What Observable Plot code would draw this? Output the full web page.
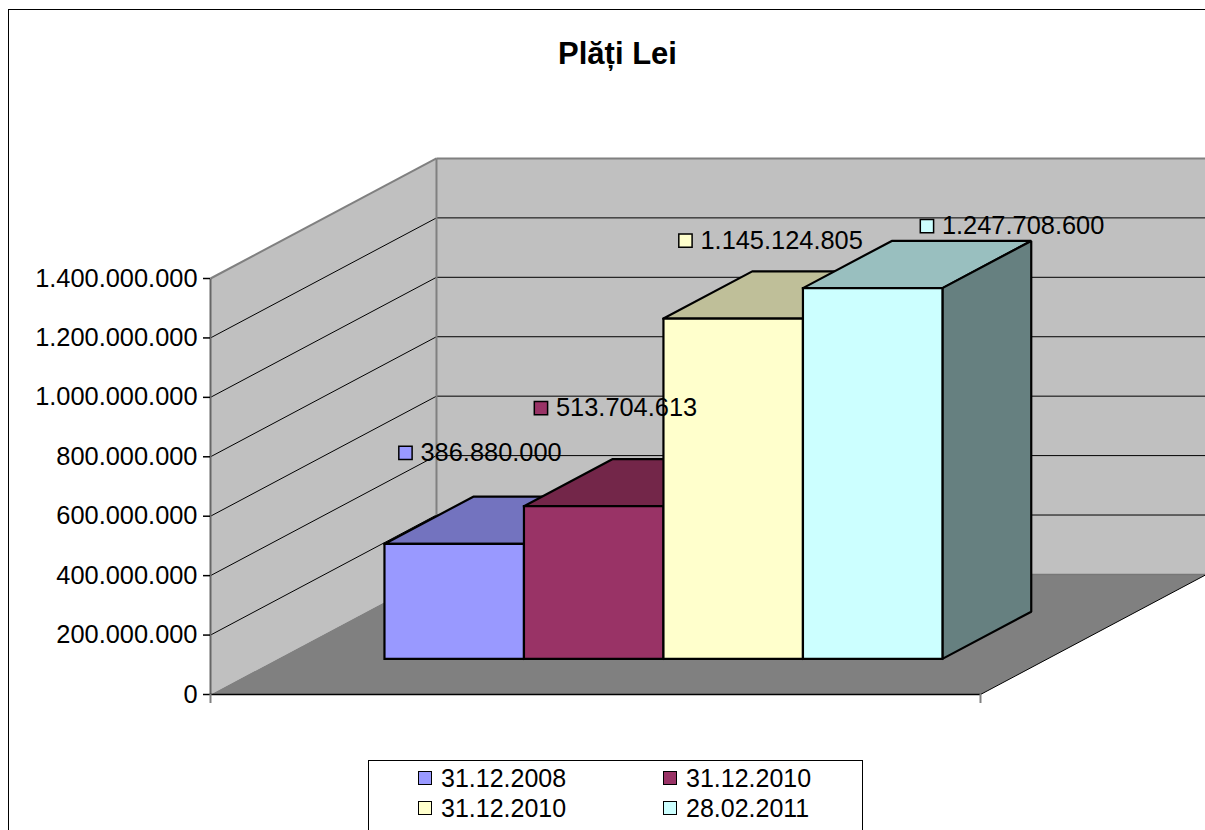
<!DOCTYPE html>
<html>
<head>
<meta charset="utf-8">
<script src="https://cdn.jsdelivr.net/npm/d3@7"></script>
<script src="https://cdn.jsdelivr.net/npm/@observablehq/plot@0.6"></script>
<style>
html,body{margin:0;padding:0;background:#fff;overflow:hidden}
#root{position:relative;width:1205px;height:830px;overflow:hidden;font-family:"Liberation Sans",Arial,sans-serif;color:#000}
#frame{position:absolute;left:8px;top:9px;width:1400px;height:1000px;border:1.5px solid #000;box-sizing:border-box;pointer-events:none}
#title{position:absolute;left:0;top:0;width:1235px;height:100px;box-sizing:border-box;padding-top:37px;line-height:34px;text-align:center;font-weight:bold;font-size:31px}
#chart{position:absolute;left:0;top:100px}
#chart svg{display:block}
#legend{position:absolute;left:368px;top:760px;width:495px;height:100px;box-sizing:border-box;border:1px solid #000;padding:2px 0 0 49px;display:grid;grid-template-columns:245px 245px;grid-auto-rows:30px;font-size:25px;background:#fff}
.item{display:flex;align-items:center;line-height:30px}
.swatch{width:12px;height:12px;border:1.5px solid #000;margin-right:9px;flex:none}
</style>
</head>
<body>
<div id="root">
  <div id="frame"></div>
  <div id="title"></div>
  <div id="chart"></div>
  <div id="legend"></div>
</div>
<script>
const chartTitle = "Plăți Lei";
const categories = ["31.12.2008", "31.12.2010", "31.12.2010", "28.02.2011"];
const values = [386880000, 513704613, 1145124805, 1247708600];
const frontColors = ["#9999FF", "#993366", "#FFFFCC", "#CCFFFF"];
const topColors = ["#7373BF", "#732649", "#BFBF99", "#99BFBF"];
const sideColors = ["#4D4D80", "#4D1A33", "#808066", "#668080"];
const tickValues = [0, 200000000, 400000000, 600000000, 800000000, 1000000000, 1200000000, 1400000000];
const labelOffsetX = [36, 32, 37, 139];
const labelOffsetY = [-91, -98, -78, -62];

const fmt = d3.formatLocale({decimal: ",", thousands: ".", grouping: [3], currency: ["", ""]}).format(",d");

// Oblique projection: depth d (0 front, 1 back) shifts a point right and up, in data units.
const floorWidth = 5.52, viewEnd = 7.133, yMax = 1400000000;
const depthX = 1.62, depthY = 404000000;
const barStart = 0.766, barDepthFront = 0.297, barDepth = 0.393;
const P = (u, v, d = 0) => ({x: u + d * depthX, y: v + d * depthY});
const poly = (pts, fill, stroke, strokeWidth) =>
  Plot.line([...pts, pts[0]], {x: "x", y: "y", fill, stroke, strokeWidth, strokeLinejoin: "miter", strokeLinecap: "square"});

const marks = [];
// floor and walls
marks.push(poly([P(0, 0), P(0, yMax), P(0, yMax, 1), P(0, 0, 1)], "#C0C0C0", "none", 0));
marks.push(poly([P(0, 0, 1), P(0, yMax, 1), P(floorWidth, yMax, 1), P(floorWidth, 0, 1)], "#C0C0C0", "none", 0));
marks.push(poly([P(0, 0), P(floorWidth, 0), P(floorWidth, 0, 1), P(0, 0, 1)], "#808080", "none", 0));

const inner = tickValues.filter(v => v > 0 && v < yMax);
const seg = (a, b, stroke, strokeWidth) =>
  Plot.line([a, b], {x: "x", y: "y", stroke, strokeWidth, strokeLinecap: "butt"});
for (const v of inner) {
  marks.push(seg(P(0, v), P(0, v, 1), "#000", 1));
  marks.push(seg(P(0, v, 1), P(floorWidth, v, 1), "#000", 1));
}
marks.push(seg(P(0, yMax), P(0, yMax, 1), "#808080", 2));
marks.push(seg(P(0, yMax, 1), P(floorWidth, yMax, 1), "#808080", 2));
marks.push(seg(P(0, 0, 1), P(0, yMax, 1), "#808080", 2));
marks.push(seg(P(0, 0), P(0, yMax), "#666", 2));
marks.push(seg(P(0, 0, 1), P(floorWidth, 0, 1), "#777", 1.5));
marks.push(seg(P(0, 0), P(floorWidth, 0), "#000", 1.5));
marks.push(seg(P(floorWidth, 0), P(floorWidth, 0, 1), "#000", 1));

// bars
values.forEach((v, i) => {
  const u0 = barStart + i, u1 = u0 + 1, d0 = barDepthFront, d1 = d0 + barDepth;
  marks.push(poly([P(u0, v, d0), P(u0, v, d1), P(u1, v, d1), P(u1, v, d0)], topColors[i], "#000", 2.2));
  marks.push(poly([P(u1, 0, d0), P(u1, v, d0), P(u1, v, d1), P(u1, 0, d1)], sideColors[i], "#000", 2.2));
  marks.push(poly([P(u0, 0, d0), P(u0, v, d0), P(u1, v, d0), P(u1, 0, d0)], frontColors[i], "#000", 2.2));
});

// data labels
values.forEach((v, i) => {
  const a = P(barStart + i, v, barDepthFront);
  marks.push(Plot.dot([a], {x: "x", y: "y", symbol: "square", r: 7.5, fill: frontColors[i], stroke: "#000", strokeWidth: 1.5,
    dx: labelOffsetX[i] - 15, dy: labelOffsetY[i]}));
  marks.push(Plot.text([a], {x: "x", y: "y", text: () => fmt(v), textAnchor: "start", fontSize: 25.4, fill: "#000",
    dx: labelOffsetX[i], dy: labelOffsetY[i]}));
});

// axes
marks.push(Plot.axisY({ticks: tickValues, tickFormat: fmt, tickSize: 7, tickPadding: 6, fontSize: 25.4, label: null, stroke: "#000", strokeWidth: 1.5, color: "#000"}));
marks.push(Plot.axisX({ticks: [0, floorWidth], tickSize: 9, tickFormat: () => "", label: null, stroke: "#808080", strokeWidth: 2}));

const plot = Plot.plot({
  width: 1205,
  height: 650,
  marginLeft: 210,
  marginRight: 0,
  marginTop: 178,
  marginBottom: 56,
  x: {domain: [0, viewEnd]},
  y: {domain: [0, yMax]},
  style: {fontFamily: '"Liberation Sans", Arial, sans-serif', background: "transparent", overflow: "hidden"},
  marks
});
document.getElementById("chart").appendChild(plot);
document.getElementById("title").textContent = chartTitle;
const legend = document.getElementById("legend");
categories.forEach((c, i) => {
  const item = document.createElement("div");
  item.className = "item";
  const sw = document.createElement("span");
  sw.className = "swatch";
  sw.style.background = frontColors[i];
  const t = document.createElement("span");
  t.textContent = c;
  item.append(sw, t);
  legend.append(item);
});
</script>
</body>
</html>
